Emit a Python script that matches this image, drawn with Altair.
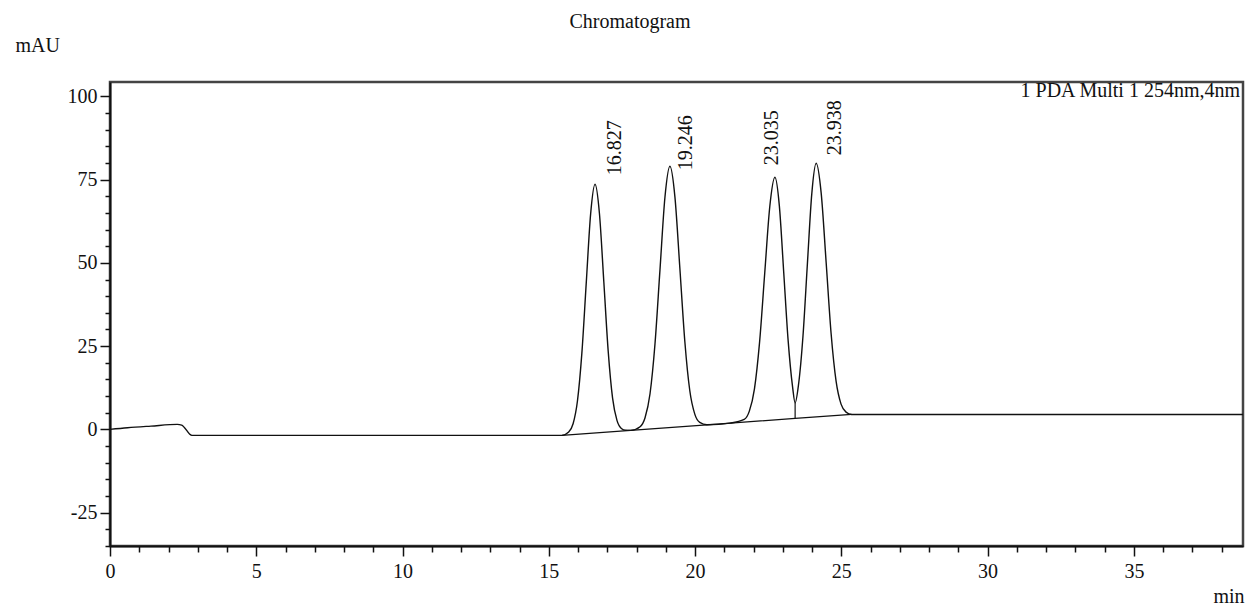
import altair as alt
import pandas as pd

FONT = "Liberation Serif"

# ---- chromatogram trace (minutes, mAU) ----
trace_t = [0.0, 0.6, 1.4, 2.3, 2.45, 2.8, 15.45, 15.68, 15.83, 15.98, 16.13, 16.28, 16.43,
           16.58, 16.73, 16.88, 17.03, 17.18, 17.33, 17.48, 17.63, 17.8, 18.12, 18.29,
           18.46, 18.63, 18.80, 18.97, 19.14, 19.31, 19.48, 19.65, 19.82, 19.99, 20.16,
           20.4, 21.2, 21.68, 21.855, 22.03, 22.205, 22.38, 22.555, 22.73, 22.88, 23.03,
           23.18, 23.33, 23.42, 23.54, 23.69, 23.84, 23.99, 24.14, 24.31, 24.48, 24.65,
           24.82, 24.99, 25.16, 25.35, 38.73]
trace_v = [0.0, 0.5, 1.0, 1.5, 1.3, -1.8, -1.8, -0.8, 1.7, 8.6, 22.9, 44.0, 64.7,
           73.6, 64.9, 44.4, 23.5, 9.4, 2.7, 0.3, -0.25, -0.3, 0.8, 3.5,
           10.7, 25.7, 47.9, 69.7, 79.0, 69.9, 48.4, 26.4, 11.6, 4.6, 2.1,
           1.4, 1.9, 3.0, 5.5, 12.2, 26.2, 46.8, 67.0, 75.7, 67.2, 47.2,
           26.8, 13.0, 8.0, 13.7, 28.2, 49.8, 70.8, 79.9, 71.0, 50.2, 28.8,
           14.5, 7.6, 5.2, 4.5, 4.5]

# integration baseline
base_t = [15.45, 17.8, 20.4, 23.42, 25.35]
base_v = [-1.8, -0.3, 1.36, 3.3, 4.5]

# drop line between peaks 3 and 4
drop_t = [23.42]
drop_v = [8.0]
drop_v2 = [3.3]

# peak labels (retention times) and their anchor positions
label_text = ["16.827", "19.246", "23.035", "23.938"]
label_t = [17.26, 19.69, 22.63, 24.79]
label_v = [76.3, 77.8, 79.3, 82.3]

x_ticks = list(range(0, 39))
y_ticks = list(range(-35, 105, 5))

trace = pd.DataFrame({"t": trace_t, "v": trace_v})
baseline = pd.DataFrame({"t": base_t, "v": base_v})
drop = pd.DataFrame({"t": drop_t, "v": drop_v, "v2": drop_v2})
labels = pd.DataFrame({"t": label_t, "v": label_v, "s": label_text})

x_enc = alt.X(
    "t:Q",
    scale=alt.Scale(domain=[0, 38.73], nice=False, zero=False),
    axis=alt.Axis(
        values=x_ticks,
        labelExpr="datum.value % 5 === 0 ? toString(datum.value) : ''",
        tickSize={"condition": {"test": "datum.value % 5 === 0", "value": 10}, "value": 6},
        labelOverlap=False,
        labelFlush=False,
        labelPadding=5,
        title="min",
        titleX=1103,
        titleY=50,
        titleAlign="left",
        titleBaseline="middle",
    ),
)
y_enc = alt.Y(
    "v:Q",
    scale=alt.Scale(domain=[-35, 104.3], nice=False, zero=False),
    axis=alt.Axis(
        values=y_ticks,
        labelExpr="datum.value % 25 === 0 ? toString(datum.value) : ''",
        tickSize={"condition": {"test": "datum.value % 25 === 0", "value": 10}, "value": 5},
        labelOverlap=False,
        labelFlush=False,
        labelPadding=3,
        title="mAU",
        titleAngle=0,
        titleX=-95,
        titleY=-37,
        titleAlign="left",
        titleBaseline="middle",
    ),
)

line = alt.Chart(trace).mark_line(color="#111", strokeWidth=1.4, interpolate="monotone").encode(
    x=x_enc, y=y_enc
)
base = alt.Chart(baseline).mark_line(color="#111", strokeWidth=1.2).encode(x=x_enc, y=y_enc)
drops = alt.Chart(drop).mark_rule(color="#111", strokeWidth=1.2).encode(x=x_enc, y=y_enc, y2="v2:Q")
peak_labels = alt.Chart(labels).mark_text(
    angle=270, align="left", baseline="middle", font=FONT, fontSize=20, color="#111"
).encode(x=x_enc, y=y_enc, text="s:N")

title_txt = alt.Chart(pd.DataFrame({"s": ["Chromatogram"]})).mark_text(
    align="center", baseline="middle", font=FONT, fontSize=20, color="#111"
).encode(x=alt.value(520), y=alt.value(-60), text="s:N")

legend_txt = alt.Chart(pd.DataFrame({"s": ["1 PDA Multi 1 254nm,4nm"]})).mark_text(
    align="right", baseline="middle", font=FONT, fontSize=20, color="#111"
).encode(x=alt.value(1130), y=alt.value(9), text="s:N")

chart = (
    alt.layer(base, drops, line, peak_labels, title_txt, legend_txt)
    .properties(
        width=1133,
        height=464,
        padding={"left": 110, "top": 82, "right": 5, "bottom": 59},
        autosize=alt.AutoSizeParams(type="none"),
        background="white",
    )
    .configure_view(stroke="#444", strokeWidth=2.5)
    .configure_axis(
        grid=False,
        domainColor="#111",
        domainWidth=2,
        tickColor="#111",
        tickWidth=1.5,
        labelFont=FONT,
        labelFontSize=20,
        labelColor="#111",
        titleFont=FONT,
        titleFontSize=20,
        titleFontWeight="normal",
        titleColor="#111",
    )
)

chart.save("out.html", embed_options={"renderer": "svg", "actions": False})
